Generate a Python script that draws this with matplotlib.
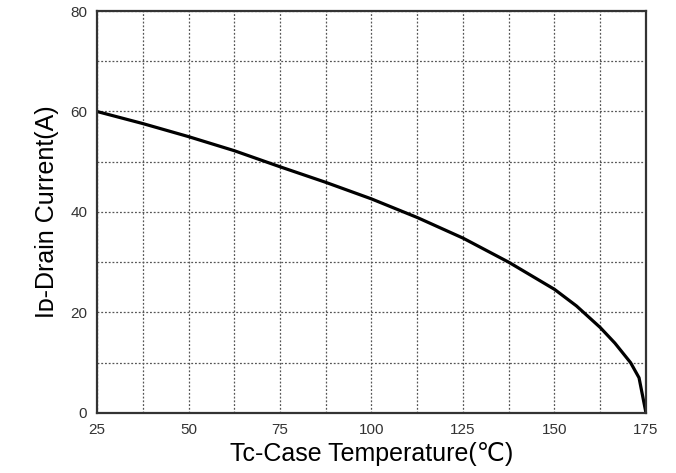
import matplotlib
matplotlib.use("Agg")
import matplotlib.pyplot as plt
from matplotlib.ticker import MultipleLocator

# Data
temp_c = [25, 37.5, 50, 62.5, 75, 87.5, 100, 112.5, 125, 137.5,
          150, 156, 162.5, 166.5, 170.8, 173.1, 175]
drain_a = [60, 57.6, 55.0, 52.2, 49.0, 45.9, 42.6, 38.9, 34.8, 30.0,
           24.6, 21.3, 17.0, 13.9, 10.0, 7.0, 0]

x_ticks = [25, 50, 75, 100, 125, 150, 175]
y_ticks = [0, 20, 40, 60, 80]

fig = plt.figure(figsize=(6.76, 4.73), dpi=100)
ax = fig.add_axes([0.1435, 0.127, 0.8121, 0.8497])

ax.plot(temp_c, drain_a, color="black", lw=2.3, solid_joinstyle="round")

ax.set_xlim(25, 175)
ax.set_ylim(0, 80)
ax.set_xticks(x_ticks)
ax.set_yticks(y_ticks)
ax.xaxis.set_minor_locator(MultipleLocator(12.5))
ax.yaxis.set_minor_locator(MultipleLocator(10))
ax.grid(which="both", color="#555555", linestyle=(0, (1.5, 1.5)), lw=0.9)
ax.tick_params(which="both", length=0)
ax.tick_params(axis="x", pad=7)
ax.tick_params(axis="y", pad=7)
for lab in ax.get_xticklabels() + ax.get_yticklabels():
    lab.set_fontfamily(["Liberation Sans", "DejaVu Sans"])
    lab.set_fontsize(11)
    lab.set_color("#333333")

for s in ax.spines.values():
    s.set_linewidth(1.6)
    s.set_color("#333333")

ax.set_xlabel("Tc-Case Temperature(\u2103)", fontsize=18,
              family=["Liberation Sans", "DejaVu Sans"], labelpad=4)
ax.set_ylabel("I\u1d05-Drain Current(A)", fontsize=18,
              family=["Liberation Sans", "DejaVu Sans"], labelpad=8)

fig.savefig("out.png", dpi=100)
